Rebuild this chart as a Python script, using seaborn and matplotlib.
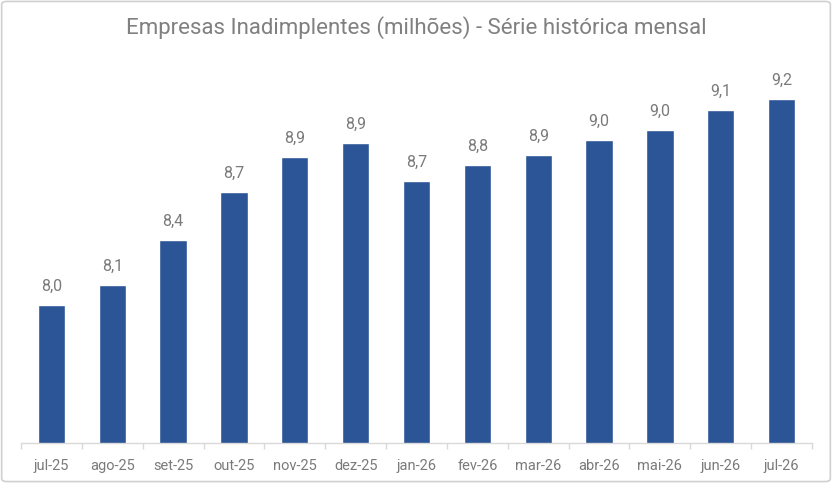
import pandas as pd
import matplotlib.pyplot as plt
import matplotlib.patches as mpatches
import seaborn as sns

# monthly series, millions of companies
months = ['jul-25', 'ago-25', 'set-25', 'out-25', 'nov-25', 'dez-25', 'jan-26',
          'fev-26', 'mar-26', 'abr-26', 'mai-26', 'jun-26', 'jul-26']
values = [8.00, 8.115, 8.38, 8.66, 8.863, 8.94, 8.72, 8.813, 8.873, 8.958, 9.016, 9.133, 9.20]
title = 'Empresas Inadimplentes (milhões) - Série histórica mensal'

df = pd.DataFrame({'mes': months, 'empresas': values})

sns.set_theme(style='white')
plt.rcParams['font.family'] = ['Roboto', 'DejaVu Sans']

fig = plt.figure(figsize=(8.32, 4.83), dpi=100)
ax = fig.add_axes([21 / 832, 40.3 / 483, 791 / 832, 382.7 / 483])

sns.barplot(data=df, x='mes', y='empresas', color='#2B5597', saturation=1,
            width=0.45, ax=ax)
ax.set_ylim(7.2, 9.425)
ax.set_xlim(-0.5, len(months) - 0.5)

for i, v in enumerate(values):
    ax.annotate(f'{v:.1f}'.replace('.', ','), (i, v), xytext=(0, 8),
                textcoords='offset points', ha='center', va='bottom',
                fontsize=11.5, color='#7a7a7a')

ax.set_xlabel('')
ax.set_ylabel('')
ax.set_yticks([])
for s in ['top', 'right', 'left']:
    ax.spines[s].set_visible(False)
ax.spines['bottom'].set_color('#d9d9d9')
ax.spines['bottom'].set_linewidth(1)

# Excel-style ticks between categories
ax.set_xticks([i + 0.5 for i in range(-1, len(months))], minor=True)
ax.tick_params(axis='x', which='minor', bottom=True, length=4, color='#d9d9d9', width=1)
ax.tick_params(axis='x', which='major', bottom=False, labelsize=10.5,
               labelcolor='#7a7a7a', pad=6)

fig.text(0.5, 1 - 28 / 483, title, ha='center', va='center',
         fontsize=16, color='#808080')

fig.patches.append(mpatches.FancyBboxPatch((0.002, 0.003), 0.996, 0.994,
                                           boxstyle='round,pad=0,rounding_size=0.006',
                                           transform=fig.transFigure, fill=False,
                                           edgecolor='#d0d0d0', linewidth=1.2))

fig.savefig('out.png', dpi=100)
